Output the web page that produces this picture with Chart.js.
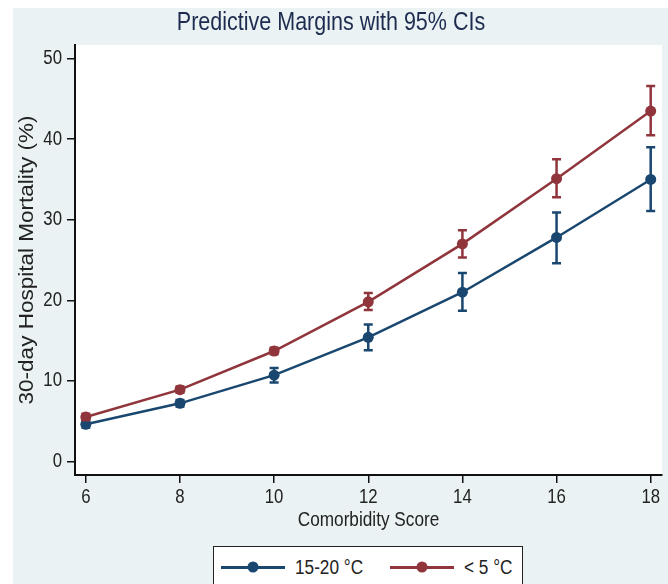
<!DOCTYPE html>
<html lang="en">
<head>
<meta charset="UTF-8">
<title>Predictive Margins with 95% CIs</title>
<script src="https://cdn.jsdelivr.net/npm/chart.js@4.4.0/dist/chart.umd.min.js"></script>
<style>
  html, body { margin: 0; padding: 0; background: #fff; }
  #wrap { position: relative; width: 668px; height: 584px; overflow: hidden; }
  #bg { position: absolute; left: 13px; top: 8px; right: 0; bottom: 0; background: #eaf2f3; }
  canvas { position: absolute; left: 0; top: 0; }
  #legend {
    position: absolute; left: 213px; top: 546px; width: 310px; height: 60px;
    background: #fff; border: 1.5px solid #222; box-sizing: border-box;
    font: 20px 'Liberation Sans', Arial, sans-serif; color: #222;
  }
  .item { position: absolute; top: 9px; height: 23px; white-space: nowrap; }
  .swatch { position: absolute; left: 0; top: 10px; width: 64px; height: 2.5px; }
  .swatch i { position: absolute; left: 50%; top: 50%; width: 11px; height: 11px; border-radius: 50%; transform: translate(-50%, -50%); }
  .label { position: absolute; left: 74px; top: 0; line-height: 23px; transform: scaleX(0.86); transform-origin: left center; }
</style>
</head>
<body>
<div id="wrap">
  <div id="bg"></div>
  <canvas id="chart" width="668" height="584"></canvas>
  <div id="legend"></div>
</div>
<script>
// comorbidity score on the x axis
const scores = [6, 8, 10, 12, 14, 16, 18];

// 15-20 °C: margin and 95% CI
const warmMean = [4.6, 7.2, 10.7, 15.4, 21.0, 27.8, 35.0];
const warmLow  = [4.2, 6.8, 9.8, 13.8, 18.7, 24.6, 31.1];
const warmHigh = [5.0, 7.6, 11.6, 17.0, 23.4, 30.9, 39.0];

// < 5 °C: margin and 95% CI
const coldMean = [5.5, 8.9, 13.7, 19.8, 27.0, 35.1, 43.5];
const coldLow  = [5.1, 8.5, 13.3, 18.8, 25.3, 32.8, 40.5];
const coldHigh = [5.9, 9.3, 14.1, 20.9, 28.7, 37.5, 46.6];

const seriesNames = ['15-20 \u00B0C', '< 5 \u00B0C'];
const seriesColors = ['#1a476f', '#90353b'];

const xTicks = [6, 8, 10, 12, 14, 16, 18];
const yTicks = [0, 10, 20, 30, 40, 50];

const sans = "'Liberation Sans', Arial, sans-serif";
const squeeze = 0.86;   // the source picture is squashed sideways

function toPoints(means, lows, highs) {
    return scores.map((s, i) => ({ x: s, y: means[i], lo: lows[i], hi: highs[i] }));
}

// white plot region
const plotBg = {
    id: 'plotBg',
    beforeDraw(chart) {
        const a = chart.chartArea, ctx = chart.ctx;
        ctx.save();
        ctx.fillStyle = '#fff';
        ctx.fillRect(a.left, a.top, a.right - a.left, a.bottom - a.top);
        ctx.restore();
    }
};

// confidence interval whiskers
const errorBars = {
    id: 'errorBars',
    afterDatasetsDraw(chart) {
        const ctx = chart.ctx, xs = chart.scales.x, ys = chart.scales.y;
        ctx.save();
        chart.data.datasets.forEach(ds => {
            ctx.strokeStyle = ds.borderColor;
            ctx.lineWidth = 2.5;
            ds.data.forEach(p => {
                const px = xs.getPixelForValue(p.x);
                const top = ys.getPixelForValue(p.hi);
                const bot = ys.getPixelForValue(p.lo);
                ctx.beginPath();
                ctx.moveTo(px, top); ctx.lineTo(px, bot);
                ctx.moveTo(px - 4.5, top); ctx.lineTo(px + 4.5, top);
                ctx.moveTo(px - 4.5, bot); ctx.lineTo(px + 4.5, bot);
                ctx.stroke();
            });
        });
        ctx.restore();
    }
};

const ctx = document.getElementById('chart').getContext('2d');

// squash all canvas text sideways (vertical text gets squashed across its height)
const rawFillText = ctx.fillText;
ctx.fillText = function (text, x, y) {
    const m = this.getTransform();
    this.save();
    this.translate(x, y);
    if (Math.abs(m.b) > 0.01) this.scale(1, squeeze); else this.scale(squeeze, 1);
    rawFillText.call(this, text, 0, 0);
    this.restore();
};

new Chart(ctx, {
    type: 'line',
    data: {
        datasets: [
            { label: seriesNames[0], data: toPoints(warmMean, warmLow, warmHigh), borderColor: seriesColors[0] },
            { label: seriesNames[1], data: toPoints(coldMean, coldLow, coldHigh), borderColor: seriesColors[1] }
        ].map(d => Object.assign(d, {
            backgroundColor: d.borderColor, borderWidth: 2.5, tension: 0,
            pointRadius: 5.5, pointBorderWidth: 0, pointBackgroundColor: d.borderColor, clip: false
        }))
    },
    options: {
        responsive: false,
        animation: false,
        devicePixelRatio: 1,
        layout: { padding: { left: 0, right: 6, top: 0, bottom: 52 } },
        plugins: {
            legend: { display: false },
            tooltip: { enabled: false },
            title: {
                display: true,
                text: 'Predictive Margins with 95% CIs',
                color: '#1d2b4f',
                font: { family: sans, size: 25, weight: 'normal' },
                padding: { top: 8, bottom: 7 }
            }
        },
        scales: {
            x: {
                type: 'linear',
                min: 5.77, max: 18.24,
                afterBuildTicks: s => { s.ticks = xTicks.map(v => ({ value: v })); },
                afterFit: s => { s.height = 57; },
                grid: { drawOnChartArea: false, drawTicks: true, tickLength: 8, color: '#111', lineWidth: 1.5 },
                border: { display: true, color: '#111', width: 2 },
                ticks: { color: '#222', padding: 3, font: { family: sans, size: 19.5 }, maxRotation: 0 },
                title: { display: true, text: 'Comorbidity Score', color: '#222', font: { family: sans, size: 20 }, padding: { top: 0, bottom: 0 } }
            },
            y: {
                min: -1.7, max: 51.7,
                afterBuildTicks: s => { s.ticks = yTicks.map(v => ({ value: v })); },
                afterFit: s => { s.width = 75; },
                grid: { drawOnChartArea: false, drawTicks: true, tickLength: 8, color: '#111', lineWidth: 1.5 },
                border: { display: true, color: '#111', width: 2 },
                ticks: { color: '#222', padding: 5, font: { family: sans, size: 19.5 } },
                title: { display: true, text: '30-day Hospital Mortality (%)', color: '#222', font: { family: sans, size: 22.5 }, padding: { top: 14, bottom: 0 } }
            }
        }
    },
    plugins: [plotBg, errorBars]
});

// legend built from the series names and colours
const legend = document.getElementById('legend');
const itemLeft = [7, 176];
seriesNames.forEach((name, i) => {
    const item = document.createElement('div');
    item.className = 'item';
    item.style.left = itemLeft[i] + 'px';
    item.innerHTML = '<span class="swatch" style="background:' + seriesColors[i] + '"><i style="background:' + seriesColors[i] + '"></i></span>'
        + '<span class="label">' + name + '</span>';
    legend.appendChild(item);
});
</script>
</body>
</html>
